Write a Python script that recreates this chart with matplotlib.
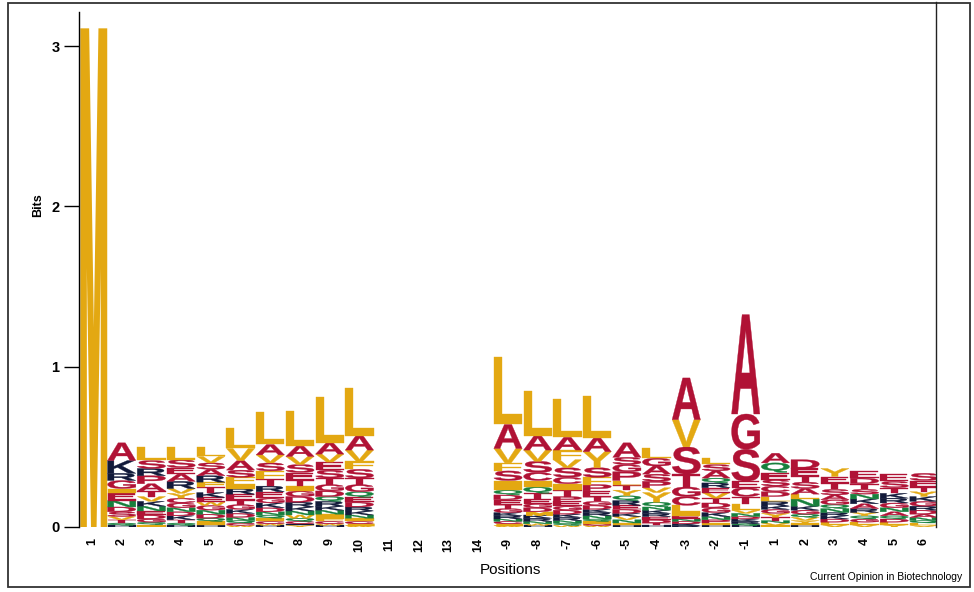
import matplotlib
matplotlib.use("Agg")
import matplotlib.pyplot as plt
from matplotlib.textpath import TextPath
from matplotlib.font_manager import FontProperties
from matplotlib.patches import PathPatch, Rectangle
from matplotlib.transforms import Affine2D
from matplotlib.lines import Line2D

# ---------------- data (letters listed top -> bottom, heights in bits) ----------------
position_labels = ["1", "2", "3", "4", "5", "6", "7", "8", "9", "10", "11", "12", "13", "14",
                   "-9", "-8", "-7", "-6", "-5", "-4", "-3", "-2", "-1",
                   "1", "2", "3", "4", "5", "6"]

column_letters = [
    "M",
    "AKRGIENDSVTQH",
    "LSRPATVKNEDGQI",
    "LSEARVYCGNDKTQH",
    "LVSARFTKEWGNDQIH",
    "LVASFIRETGKDNQCW",
    "LAVSFTREGKDNQICWH",
    "LAVSETIGDRKNWQCHY",
    "LAVESTGDQRKNIFCWH",
    "LAVFSTGQEDRKNICMW",
    "", "", "", "",
    "LAVFSIQDETGKRNCMW",
    "LAVSCIQTEGDMKRNWH",
    "LAFVSCITPEGDKRNQW",
    "LAYSFPETGDKRNQICW",
    "ASGPLTYQREDKVNIH",
    "LGASPVYQNKREDTH",
    "AVSTGCLIENDKR",
    "LSAQREVTDGKNPIH",
    "AGSECTLVNDKRQH",
    "AQESCDLRKGYTNVI",
    "DETSALNKGQVYIH",
    "YETSAGQNRKDLV",
    "EDTSNKARYQGLV",
    "ESTKRGNAQDLY",
    "SETYKGRDANQLV",
]

column_bits = [
    [3.11],
    [.11, .08, .045, .05, .03, .045, .04, .03, .03, .02, .02, .015, .01],
    [.085, .05, .045, .05, .045, .035, .03, .03, .03, .025, .025, .02, .015, .015],
    [.08, .05, .04, .045, .045, .03, .03, .03, .03, .025, .025, .025, .02, .015, .01],
    [.06, .04, .04, .04, .04, .03, .035, .03, .03, .02, .03, .025, .025, .02, .02, .015],
    [.125, .075, .06, .045, .04, .03, .035, .035, .03, .03, .025, .025, .02, .015, .015, .01],
    [.205, .065, .05, .05, .05, .045, .035, .04, .03, .03, .025, .02, .02, .02, .015, .01, .01],
    [.22, .065, .05, .05, .045, .04, .03, .035, .035, .03, .025, .025, .02, .02, .015, .01, .01],
    [.285, .07, .05, .05, .05, .04, .04, .035, .03, .03, .025, .025, .025, .02, .015, .01, .01],
    [.30, .09, .07, .05, .055, .04, .045, .035, .03, .03, .025, .025, .02, .02, .015, .01, .01],
    [], [], [], [],
    [.42, .15, .09, .05, .06, .06, .03, .03, .03, .025, .025, .02, .02, .015, .015, .01, .01],
    [.28, .09, .07, .07, .05, .04, .04, .035, .03, .025, .025, .02, .02, .02, .015, .01, .01],
    [.24, .08, .06, .05, .06, .04, .04, .04, .03, .03, .025, .025, .02, .02, .015, .015, .01],
    [.26, .085, .10, .06, .045, .04, .035, .03, .025, .025, .02, .02, .02, .015, .015, .01, .01],
    [.09, .045, .045, .055, .03, .03, .035, .03, .03, .025, .025, .02, .02, .02, .015, .01],
    [.06, .05, .05, .045, .04, .03, .06, .03, .02, .02, .02, .02, .02, .015, .01],
    [.26, .17, .17, .08, .06, .055, .045, .02, .02, .015, .015, .01, .01],
    [.04, .04, .045, .03, .03, .03, .035, .03, .03, .03, .025, .02, .02, .015, .01],
    [.62, .22, .20, .04, .055, .045, .04, .02, .02, .015, .015, .015, .01, .01],
    [.06, .06, .045, .04, .035, .03, .03, .03, .02, .025, .025, .02, .015, .015, .01],
    [.055, .045, .04, .04, .035, .03, .045, .025, .025, .02, .02, .015, .015, .01],
    [.05, .04, .04, .035, .03, .03, .025, .025, .02, .02, .02, .015, .015],
    [.045, .035, .035, .03, .03, .03, .03, .025, .02, .02, .02, .015, .015],
    [.045, .04, .035, .03, .03, .03, .025, .025, .02, .02, .015, .015],
    [.045, .04, .03, .03, .03, .03, .025, .025, .02, .02, .015, .015, .01],
]

# residue colour groups
yellow_residues = "LVIFMYW"
red_residues = "ASGTCPED"
navy_residues = "KRH"
green_residues = "QN"

YELLOW = "#e3a812"
RED = "#b01235"
NAVY = "#121a3a"
GREEN = "#17803d"


def residue_color(ch):
    if ch in yellow_residues:
        return YELLOW
    if ch in red_residues:
        return RED
    if ch in navy_residues:
        return NAVY
    return GREEN


W, H = 974, 592
fig = plt.figure(figsize=(W / 100, H / 100), dpi=100)

# axes in pixel geometry
ax_left, ax_right, ax_bottom, ax_top = 79, 936, 527, 12
ax = fig.add_axes([ax_left / W, 1 - ax_bottom / H, (ax_right - ax_left) / W, (ax_bottom - ax_top) / H])
ax.set_xlim(0.5625, 29.404)
ax.set_ylim(0, 3.213)

fp = FontProperties(family="Liberation Sans", weight="bold")
col_w = 0.95


def draw_letter(ch, x, y0, w, h, color, stroke=0.25):
    tp = TextPath((0, 0), ch, size=1, prop=fp)
    bb = tp.get_extents()
    tr = Affine2D().translate(-bb.x0, -bb.y0).scale(w / bb.width, h / bb.height).translate(x - w / 2, y0)
    ax.add_patch(PathPatch(tr.transform_path(tp), fc=color, ec=color, lw=stroke,
                           joinstyle="miter"))


for i, (letters, bits) in enumerate(zip(column_letters, column_bits)):
    x = i + 1
    y = 0.0
    for ch, b in zip(reversed(letters), reversed(bits)):
        if ch == "M":
            # heavily stretched glyph: thicken strokes as in the reference rendering
            draw_letter(ch, x + 0.06, y, 0.84, b - 0.005, residue_color(ch), stroke=1.4)
        else:
            draw_letter(ch, x, y, col_w, b, residue_color(ch))
        y += b

# axes styling
for s in ["top", "bottom", "right"]:
    ax.spines[s].set_visible(False)
ax.spines["left"].set_linewidth(1.0)
ax.set_yticks([0, 1, 2, 3])
ax.set_yticklabels(["0", "1", "2", "3"], fontsize=10.5, fontweight="bold", family="Liberation Sans")
ax.tick_params(axis="y", length=11, width=1.0, pad=3)
ax.set_xticks(range(1, len(position_labels) + 1))
ax.set_xticklabels(position_labels, rotation=90, fontsize=9, fontweight="bold",
                   family="Liberation Sans")
ax.tick_params(axis="x", length=0, pad=8)

# right vertical rule
fig.add_artist(Line2D([ax_right / W, ax_right / W], [1 - ax_bottom / H, 1 - 2 / H],
                      color="#222222", lw=1.0))

# labels
fig.text(38 / W, 1 - 205 / H, "Bits", rotation=90, ha="center", va="center",
         fontsize=9, fontweight="bold", family="Liberation Sans")
fig.text(510 / W, 1 - 570 / H, "Positions", ha="center", va="center",
         fontsize=11, family="Liberation Sans")
fig.text(962 / W, 1 - 577 / H, "Current Opinion in Biotechnology", ha="right", va="center",
         fontsize=7.5, family="Liberation Sans")

# outer frame
fig.add_artist(Rectangle((8 / W, 1 - 587 / H), (970 - 8) / W, (587 - 3) / H,
                         transform=fig.transFigure, fill=False, ec="#333333", lw=1.3))

fig.savefig("out.png", dpi=100)
